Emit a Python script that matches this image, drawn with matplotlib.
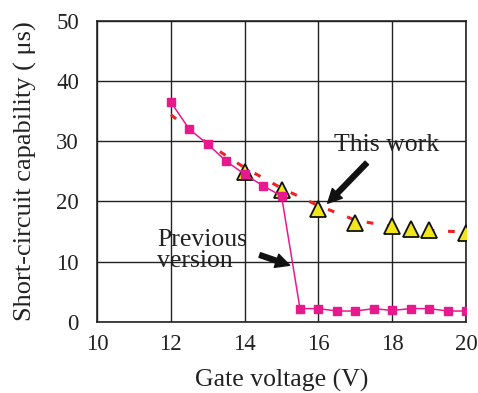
import matplotlib
matplotlib.use("Agg")
import matplotlib.pyplot as plt

# Data
prev_x = [12, 12.5, 13, 13.5, 14, 14.5, 15, 15.5, 16, 16.5, 17, 17.5, 18, 18.5, 19, 19.5, 20]
prev_y = [36.5, 32.0, 29.5, 26.7, 24.5, 22.6, 20.9, 2.2, 2.2, 1.8, 1.8, 2.2, 1.9, 2.2, 2.2, 1.8, 1.8]
this_x = [14, 15, 16, 17, 18, 18.5, 19, 20]
this_y = [24.9, 21.9, 18.8, 16.5, 15.9, 15.4, 15.2, 14.8]
trend_x = [12, 13, 14, 15, 16, 17, 18, 19, 20]
trend_y = [34.4, 29.6, 25.6, 22.2, 19.3, 16.9, 15.8, 15.2, 14.9]
x_ticks = [10, 12, 14, 16, 18, 20]
y_ticks = [0, 10, 20, 30, 40, 50]

plt.rcParams['font.family'] = ['Liberation Serif', 'DejaVu Serif']

fig = plt.figure(figsize=(4.78, 3.93), dpi=100)
ax = fig.add_axes([0.203, 0.181, 0.772, 0.766])

ax.grid(True, color='#222222', linewidth=1.0)
ax.set_axisbelow(True)

ax.plot(trend_x, trend_y, color='#ee2222', linewidth=2.2, dashes=(2.2, 4.5), zorder=2)
ax.plot(prev_x, prev_y, color='#e8198c', linewidth=1.1, marker='s', markersize=6.3,
        markerfacecolor='#e8198c', markeredgecolor='#e8198c', zorder=4)
ax.plot(this_x, this_y, linestyle='none', marker='^', markersize=12,
        markerfacecolor='#f2e61a', markeredgecolor='#111111', markeredgewidth=1.3, zorder=3)

ax.set_xlim(10, 20)
ax.set_ylim(0, 50)
ax.set_xticks(x_ticks)
ax.set_yticks(y_ticks)
ax.tick_params(length=0, labelsize=16.5, colors='#222222')
ax.tick_params(axis='y', pad=13)
ax.tick_params(axis='x', pad=9)
for s in ax.spines.values():
    s.set_color('#222222')
    s.set_linewidth(1.2)

ax.set_xlabel('Gate voltage (V)', fontsize=18.5, color='#222222', va='center')
ax.xaxis.set_label_coords(0.5, -0.195)
ax.set_ylabel('Short-circuit capability ( μs)', fontsize=19, color='#222222', va='center')
ax.yaxis.set_label_coords(-0.195, 0.5)

arrow = dict(arrowstyle='simple,head_length=1.0,head_width=1.0,tail_width=0.35',
             color='#111111', shrinkA=0, shrinkB=0)
ax.text(17.85, 29.35, 'This work', fontsize=18.5, ha='center', va='center', color='#222222')
ax.annotate('', xy=(16.25, 19.7), xytext=(17.31, 26.4), arrowprops=arrow)
ax.text(11.62, 11.9, 'Previous\nversion', fontsize=18.5, ha='left', va='center',
        color='#222222', linespacing=0.95)
ax.annotate('', xy=(15.22, 9.4), xytext=(14.41, 11.1), arrowprops=arrow)

fig.savefig('out.png', dpi=100)
